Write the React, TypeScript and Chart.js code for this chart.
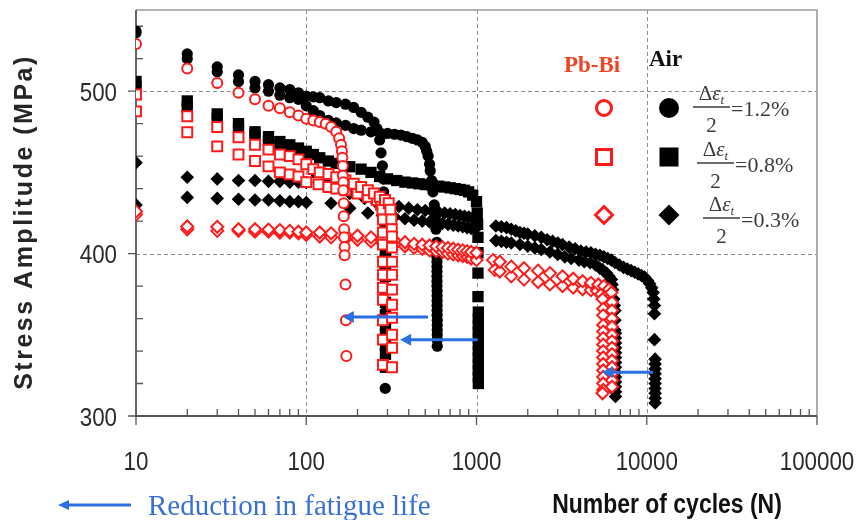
import React, { useEffect, useRef } from 'react';
import { Chart, registerables } from 'chart.js';

Chart.register(...registerables);

// ---------- axes ----------
const X_MIN = 10;
const X_MAX = 100000;
const Y_MIN = 300;
const Y_MAX = 550;
const xMajorTicks = [10, 100, 1000, 10000, 100000];
const xMinorTicks = [
  20, 30, 40, 50, 60, 70, 80, 90,
  200, 300, 400, 500, 600, 700, 800, 900,
  2000, 3000, 4000, 5000, 6000, 7000, 8000, 9000,
  20000, 30000, 40000, 50000, 60000, 70000, 80000, 90000,
];
const yMajorTicks = [300, 400, 500];
const yMinorTicks = [320, 340, 360, 380, 420, 440, 460, 480, 520, 540];
const xGridLines = [100, 1000, 10000];
const yGridLines = [400, 500];

// ---------- texts ----------
const yTitle = 'Stress Amplitude (MPa)';
const xTitle = 'Number of cycles (N)';
const noteText = 'Reduction in fatigue life';
const pbLabel = 'Pb-Bi';
const airLabel = 'Air';
const strainLabels = ['1.2%', '0.8%', '0.3%'];

// ---------- data: [cycles, stress amplitude MPa] ----------
const pbCircle: [number, number][] = [
  [10, 529], [20, 514], [30, 505], [40, 499], [50, 495], [60, 491], [70, 489.5], [80, 487], [90, 485], [100, 483],
  [110, 482], [120, 481], [130, 480], [140, 478], [150, 475], [156, 471], [160, 467], [162, 463], [163, 459],
  [164, 454], [164, 448], [165, 444], [165, 439], [166, 431], [166, 423], [167, 415], [167, 410], [168, 404],
  [168, 399], [170, 381], [171, 359], [172, 337],
];

const pbSquareA: [number, number][] = [
  [10, 498], [20, 484.6], [30, 478], [40, 471.6], [50, 467], [60, 464], [70, 461], [80, 460], [90, 458], [100, 455],
  [110, 452], [120, 450], [135, 449], [150, 447], [170, 445], [190, 443], [210, 441], [230, 439], [250, 437],
  [270, 435], [290, 433], [305, 431], [312, 427], [316, 421], [318, 415], [319, 410.5], [319, 403.7], [319, 395],
  [319, 387], [319, 377.8], [319, 368.5], [319, 360.5], [319, 350], [319, 342], [319, 330],
];

const pbSquareB: [number, number][] = [
  [10, 487.6], [20, 474.7], [30, 466], [40, 461], [50, 457], [60, 453.7], [70, 450], [80, 448.8], [90, 447.5],
  [100, 444], [118, 442.6], [135, 441], [150, 440], [170, 439], [200, 437], [230, 435], [260, 433], [275, 430],
  [280, 427], [282, 421], [282, 413], [282, 405.5], [282, 395], [282, 387], [282, 379], [282, 371.6], [282, 359],
  [282, 347], [282, 331.5],
];

const pbDiamondA: [number, number][] = [
  [10, 426], [20, 416.7], [30, 416.5], [40, 415], [50, 415], [60, 414.8], [70, 414.5], [80, 414], [90, 413.5],
  [100, 413], [120, 413], [140, 412.5], [170, 411.5], [200, 411], [240, 410], [280, 409], [330, 408], [380, 407],
  [430, 406], [480, 405.5], [530, 405], [580, 404.5], [630, 404], [680, 403.5], [730, 403], [780, 402.5],
  [830, 402], [880, 401.5], [930, 401], [1000, 400.5], [1250, 396], [1370, 395], [1600, 392], [1900, 391],
  [2300, 389.5], [2700, 388], [3200, 386], [3700, 384.5], [4200, 383], [4700, 382], [5200, 381], [5600, 380],
  [6000, 378], [6200, 376], [6250, 370], [6250, 365], [6250, 360], [6250, 355], [6250, 350], [6250, 346],
  [6250, 342], [6250, 338], [6250, 334], [6250, 330], [6250, 326], [6250, 322], [6250, 318],
];

const pbDiamondB: [number, number][] = [
  [10, 424], [20, 415], [30, 414], [40, 414], [50, 413.5], [60, 413.5], [70, 413], [80, 413], [90, 412.5],
  [100, 411.5], [120, 410.5], [140, 410], [170, 409], [200, 408.5], [240, 407.5], [280, 406.5], [330, 405.5],
  [380, 404.5], [430, 403.5], [480, 403], [530, 402], [580, 401.5], [630, 401], [680, 400], [730, 399.5],
  [780, 399], [830, 398.5], [880, 398], [930, 397], [1000, 396], [1280, 390], [1370, 389], [1600, 386],
  [1900, 384], [2300, 382.5], [2700, 381], [3200, 380], [3700, 379], [4200, 378], [4700, 377.5], [5100, 377],
  [5400, 375], [5500, 372], [5550, 366], [5550, 362], [5550, 356], [5550, 352], [5550, 348], [5550, 344],
  [5550, 340], [5550, 336], [5550, 332], [5550, 328], [5550, 324], [5550, 320], [5550, 316], [5500, 314],
];

const airCircleA: [number, number][] = [
  [10, 537], [20, 523], [30, 515], [40, 510], [50, 506], [60, 504], [70, 502], [80, 501], [90, 499], [100, 497],
  [110, 496.5], [120, 496], [135, 494], [150, 493], [170, 492], [190, 490], [210, 487], [230, 484], [250, 481],
  [260, 477], [270, 470], [275, 462], [280, 454], [283, 446], [285, 438], [287, 430], [288, 422], [289, 414],
  [290, 406], [290, 398], [290, 391], [291, 385], [291, 378], [291, 370], [291, 364], [291, 358], [291, 353],
  [291, 347], [291, 341], [291, 317],
];

const airCircleB: [number, number][] = [
  [10, 536], [20, 520], [30, 512], [40, 506], [50, 502], [60, 500], [70, 497.5], [80, 496], [90, 495], [100, 491],
  [110, 488], [120, 485], [135, 482], [150, 480.5], [170, 479], [190, 477], [210, 476], [240, 475], [270, 474.5],
  [300, 474], [330, 473.5], [360, 473], [390, 472], [420, 471], [450, 470], [480, 468.5], [500, 466], [510, 463],
  [520, 460], [530, 455], [535, 451], [545, 445], [555, 438], [565, 430], [572, 422], [578, 415], [585, 407],
  [585, 404], [585, 401], [585, 398], [586, 395], [586, 392], [586, 389], [586, 386], [586, 383], [586, 380],
  [587, 377], [587, 374], [587, 371], [587, 368], [587, 365], [587, 362], [588, 359], [588, 356], [588, 353],
  [588, 350], [588, 347], [588, 343],
];

const airSquareA: [number, number][] = [
  [10, 506], [20, 494], [30, 486], [40, 480], [50, 475], [60, 472], [70, 469], [80, 467], [90, 465], [100, 463],
  [110, 461], [120, 459], [135, 457], [150, 455.5], [180, 453.5], [210, 452], [240, 450], [270, 447.5], [300, 446],
  [340, 445], [380, 444], [420, 443.5], [460, 443], [500, 442.5], [550, 442], [600, 441.5], [650, 441],
  [700, 440.5], [750, 440], [800, 439.5], [850, 439], [900, 438], [950, 436], [1000, 432], [1010, 425],
  [1015, 418], [1020, 410], [1020, 400.6], [1020, 388], [1020, 373.5], [1025, 364], [1025, 360], [1025, 356],
  [1025, 352], [1025, 348], [1025, 344], [1025, 340], [1025, 336], [1025, 332], [1025, 328], [1025, 324],
  [1025, 320],
];

const airSquareB: [number, number][] = [
  [10, 503], [20, 490], [30, 483], [40, 477], [50, 473], [60, 469], [70, 467], [80, 465], [90, 463], [100, 460],
  [115, 450], [135, 443], [160, 441], [190, 440], [220, 438.5], [250, 437], [270, 435], [285, 428], [290, 420],
  [292, 412], [292, 406], [292, 402], [292, 398], [292, 392], [292, 386], [292, 378], [292, 370], [292, 362],
  [292, 354], [292, 346], [292, 338], [292, 330],
];

const airDiamondA: [number, number][] = [
  [10, 456], [20, 447], [30, 446], [40, 445], [50, 445], [60, 444.5], [70, 444.5], [80, 444], [90, 444],
  [100, 443.8], [140, 441], [180, 437], [220, 434], [260, 431], [300, 430], [350, 429], [400, 428], [450, 427],
  [500, 426.5], [550, 426], [600, 425.5], [650, 425], [700, 424.5], [750, 424], [800, 423.5], [850, 423],
  [900, 422.5], [950, 422], [1000, 421.5], [1300, 417], [1400, 416.5], [1500, 416], [1600, 415], [1700, 414],
  [1800, 413], [1900, 412.5], [2000, 412], [2200, 411], [2400, 410], [2600, 408.5], [2800, 407.5], [3000, 406.5],
  [3200, 405.5], [3500, 404], [3800, 403], [4100, 401.5], [4400, 401], [4700, 400.5], [5000, 399.5], [5300, 399],
  [5600, 398], [5900, 397], [6200, 396], [6500, 394.5], [6900, 393], [7300, 391.5], [7700, 390.5], [8100, 389.5],
  [8500, 388.5], [8900, 387.5], [9300, 386.5], [9700, 385.5], [10100, 383.5], [10400, 381.5], [10700, 379],
  [10900, 376], [11000, 372], [11100, 368], [11100, 363], [11100, 347], [11200, 335], [11200, 332], [11200, 329],
  [11200, 326], [11200, 323], [11200, 320], [11200, 317], [11200, 314], [11200, 311], [11200, 308],
];

const airDiamondB: [number, number][] = [
  [10, 430], [20, 434.6], [30, 434], [40, 433.5], [50, 433], [60, 433], [70, 432.5], [80, 432], [90, 432],
  [100, 431.5], [140, 431], [180, 428], [230, 425], [280, 423.5], [330, 422.5], [380, 421.5], [430, 420.5],
  [480, 420], [530, 419.5], [580, 419], [630, 418.5], [680, 418], [730, 417.5], [780, 417], [830, 416.5],
  [880, 416], [930, 415.5], [980, 415], [1300, 408], [1400, 407.5], [1500, 407], [1600, 406.5], [1800, 405.6],
  [2000, 404.5], [2200, 403.5], [2400, 402.5], [2700, 401], [3000, 399.5], [3300, 398], [3600, 397], [4000, 396],
  [4300, 395], [4650, 394.4], [5000, 393], [5300, 391], [5500, 390], [5800, 388], [6000, 386], [6200, 384],
  [6250, 381], [6300, 377.8], [6400, 372], [6450, 368], [6500, 365], [6500, 359], [6500, 353], [6550, 351],
  [6550, 348], [6550, 345], [6550, 342], [6550, 339], [6550, 336], [6550, 333], [6550, 330], [6550, 327],
  [6550, 324], [6550, 321], [6550, 318], [6550, 315], [6550, 312],
];

// reduction arrows: from air life to Pb-Bi life at a stress level
const arrowFrom = [519, 1015, 10900];
const arrowTo = [164, 356, 5460];
const arrowStress = [361, 347, 327];

// ---------- styles ----------
const RED = '#ff1a1a';
const PB_TEXT = '#ee4526';
const BLUE = '#2b6fe3';
const NOTE_BLUE = '#3a6fd8';
const SANS = '"Liberation Sans", Arial, sans-serif';
const SERIF = '"Liberation Serif", "Times New Roman", serif';
const NARROW = 0.86;

const toPoints = (arr: [number, number][]) => arr.map(([x, y]) => ({ x, y }));

function condensedText(ctx: CanvasRenderingContext2D, text: string, x: number, y: number, align: CanvasTextAlign, sx: number) {
  ctx.save();
  ctx.translate(x, y);
  ctx.scale(sx, 1);
  ctx.textAlign = align;
  ctx.fillText(text, 0, 0);
  ctx.restore();
}

function drawArrow(ctx: CanvasRenderingContext2D, x1: number, x2: number, y: number, color: string, lw: number, hl: number, hw: number) {
  ctx.save();
  ctx.strokeStyle = color;
  ctx.fillStyle = color;
  ctx.lineWidth = lw;
  ctx.beginPath();
  ctx.moveTo(x1, y);
  ctx.lineTo(x2 + hl - 1, y);
  ctx.stroke();
  ctx.beginPath();
  ctx.moveTo(x2, y);
  ctx.lineTo(x2 + hl, y - hw);
  ctx.lineTo(x2 + hl, y + hw);
  ctx.closePath();
  ctx.fill();
  ctx.restore();
}

function drawMarker(ctx: CanvasRenderingContext2D, kind: string, cx: number, cy: number, r: number, filled: boolean, color: string) {
  ctx.save();
  ctx.beginPath();
  if (kind === 'circle') ctx.arc(cx, cy, r, 0, Math.PI * 2);
  else if (kind === 'square') ctx.rect(cx - r, cy - r, 2 * r, 2 * r);
  else {
    ctx.moveTo(cx, cy - r);
    ctx.lineTo(cx + r, cy);
    ctx.lineTo(cx, cy + r);
    ctx.lineTo(cx - r, cy);
    ctx.closePath();
  }
  if (filled) {
    ctx.fillStyle = color;
    ctx.fill();
  } else {
    ctx.fillStyle = '#fff';
    ctx.fill();
    ctx.strokeStyle = color;
    ctx.lineWidth = 3;
    ctx.stroke();
  }
  ctx.restore();
}

function drawFraction(ctx: CanvasRenderingContext2D, left: number, lineY: number, width: number, value: string) {
  ctx.save();
  ctx.fillStyle = '#3c3c3c';
  ctx.strokeStyle = '#3c3c3c';
  ctx.textBaseline = 'alphabetic';
  ctx.textAlign = 'left';
  ctx.font = `21px ${SERIF}`;
  const wD = ctx.measureText('Δ').width;
  ctx.font = `italic 21px ${SERIF}`;
  const wE = ctx.measureText('ε').width;
  ctx.font = `italic 13px ${SERIF}`;
  const wT = ctx.measureText('t').width;
  const total = wD + wE + wT;
  let nx = left + (width - total) / 2;
  const nb = lineY - 7;
  ctx.font = `21px ${SERIF}`;
  ctx.fillText('Δ', nx, nb);
  nx += wD;
  ctx.font = `italic 21px ${SERIF}`;
  ctx.fillText('ε', nx, nb);
  nx += wE;
  ctx.font = `italic 13px ${SERIF}`;
  ctx.fillText('t', nx, nb + 4);
  ctx.lineWidth = 1.6;
  ctx.beginPath();
  ctx.moveTo(left, lineY);
  ctx.lineTo(left + width, lineY);
  ctx.stroke();
  ctx.font = `21px ${SERIF}`;
  ctx.textAlign = 'center';
  ctx.fillText('2', left + width / 2, lineY + 25);
  ctx.textAlign = 'left';
  ctx.font = `22px ${SERIF}`;
  ctx.fillText('=' + value, left + width + 1, lineY + 8.5);
  ctx.restore();
}

const decorPlugin = {
  id: 'decor',
  beforeDatasetsDraw(chart: any) {
    const { ctx, chartArea: a, scales } = chart;
    const xs = scales.x;
    const ys = scales.y;
    ctx.save();
    // dashed grid
    ctx.strokeStyle = '#8c8c8c';
    ctx.lineWidth = 1;
    ctx.setLineDash([4, 3]);
    for (const v of xGridLines) {
      const px = Math.round(xs.getPixelForValue(v)) + 0.5;
      ctx.beginPath();
      ctx.moveTo(px, a.top);
      ctx.lineTo(px, a.bottom);
      ctx.stroke();
    }
    for (const v of yGridLines) {
      const py = Math.round(ys.getPixelForValue(v)) + 0.5;
      ctx.beginPath();
      ctx.moveTo(a.left, py);
      ctx.lineTo(a.right, py);
      ctx.stroke();
    }
    ctx.setLineDash([]);
    // top / right frame
    ctx.strokeStyle = '#9a9a9a';
    ctx.lineWidth = 1.6;
    ctx.beginPath();
    ctx.moveTo(a.left, a.top);
    ctx.lineTo(a.right, a.top);
    ctx.lineTo(a.right, a.bottom);
    ctx.stroke();
    // axes
    ctx.strokeStyle = '#555';
    ctx.lineWidth = 1.8;
    ctx.beginPath();
    ctx.moveTo(a.left, a.top);
    ctx.lineTo(a.left, a.bottom);
    ctx.lineTo(a.right, a.bottom);
    ctx.stroke();
    // ticks
    ctx.lineWidth = 1.3;
    ctx.beginPath();
    for (const v of xMajorTicks) {
      const px = xs.getPixelForValue(v);
      ctx.moveTo(px, a.bottom);
      ctx.lineTo(px, a.bottom + 9);
    }
    for (const v of xMinorTicks) {
      const px = xs.getPixelForValue(v);
      ctx.moveTo(px, a.bottom);
      ctx.lineTo(px, a.bottom - 7);
    }
    for (const v of yMajorTicks) {
      const py = ys.getPixelForValue(v);
      ctx.moveTo(a.left - 8, py);
      ctx.lineTo(a.left, py);
    }
    for (const v of yMinorTicks) {
      const py = ys.getPixelForValue(v);
      ctx.moveTo(a.left, py);
      ctx.lineTo(a.left + 7, py);
    }
    ctx.stroke();
    // tick labels (condensed sans, as in the source figure)
    ctx.fillStyle = '#2a2a2a';
    ctx.font = `26px ${SANS}`;
    ctx.textBaseline = 'alphabetic';
    for (const v of xMajorTicks) {
      condensedText(ctx, String(v), xs.getPixelForValue(v), a.bottom + 54, 'center', NARROW);
    }
    for (const v of yMajorTicks) {
      condensedText(ctx, String(v), a.left - 19, ys.getPixelForValue(v) + 9.5, 'right', NARROW);
    }
    ctx.restore();
  },
  afterDatasetsDraw(chart: any) {
    const { ctx, scales } = chart;
    for (let i = 0; i < arrowFrom.length; i++) {
      const x1 = scales.x.getPixelForValue(arrowFrom[i]);
      const x2 = scales.x.getPixelForValue(arrowTo[i]);
      const y = scales.y.getPixelForValue(arrowStress[i]);
      drawArrow(ctx, x1, x2, y, BLUE, 3, 11, 6);
    }
  },
  afterDraw(chart: any) {
    const { ctx } = chart;
    ctx.save();
    // y title
    ctx.save();
    ctx.translate(25, 222);
    ctx.rotate(-Math.PI / 2);
    ctx.font = `bold 25px ${SANS}`;
    ctx.fillStyle = '#262626';
    (ctx as any).letterSpacing = '2.5px';
    ctx.textAlign = 'center';
    ctx.textBaseline = 'middle';
    ctx.fillText(yTitle, 0, 0);
    ctx.restore();
    // x title
    ctx.font = `bold 28px ${SANS}`;
    ctx.fillStyle = '#111';
    ctx.textBaseline = 'alphabetic';
    condensedText(ctx, xTitle, 667, 513, 'center', 0.82);
    // note with arrow
    drawArrow(ctx, 131, 58, 505, BLUE, 3, 11, 5);
    ctx.font = `29px ${SERIF}`;
    ctx.fillStyle = NOTE_BLUE;
    ctx.textAlign = 'left';
    ctx.fillText(noteText, 148, 515);
    // legend headers
    ctx.font = `bold 23px ${SERIF}`;
    ctx.fillStyle = PB_TEXT;
    ctx.textAlign = 'center';
    ctx.fillText(pbLabel, 592, 72);
    ctx.fillStyle = '#111';
    ctx.textAlign = 'left';
    ctx.fillText(airLabel, 649, 66);
    ctx.restore();
    // legend markers
    const rowsY = [108, 157, 215];
    const kinds = ['circle', 'square', 'diamond'];
    const openR = [7.5, 7.5, 8.5];
    const fillR = [10, 9.5, 10.5];
    for (let i = 0; i < 3; i++) {
      drawMarker(ctx, kinds[i], 604, rowsY[i], openR[i], false, RED);
      drawMarker(ctx, kinds[i], 669, rowsY[i], fillR[i], true, '#000');
    }
    const fracLeft = [693, 697, 703];
    const fracLineY = [107, 163, 218];
    for (let i = 0; i < 3; i++) drawFraction(ctx, fracLeft[i], fracLineY[i], 37, strainLabels[i]);
  },
};

const seriesSpecs = [
  { data: pbCircle, style: 'circle', r: 5, fill: '#fff', stroke: RED, bw: 2 },
  { data: pbSquareA, style: 'rect', r: 7, fill: '#fff', stroke: RED, bw: 2 },
  { data: pbSquareB, style: 'rect', r: 7, fill: '#fff', stroke: RED, bw: 2 },
  { data: pbDiamondA, style: 'rectRot', r: 6, fill: '#fff', stroke: RED, bw: 2 },
  { data: pbDiamondB, style: 'rectRot', r: 6, fill: '#fff', stroke: RED, bw: 2 },
  { data: airCircleA, style: 'circle', r: 5.6, fill: '#000', stroke: '#000', bw: 0 },
  { data: airCircleB, style: 'circle', r: 5.6, fill: '#000', stroke: '#000', bw: 0 },
  { data: airSquareA, style: 'rect', r: 8, fill: '#000', stroke: '#000', bw: 0 },
  { data: airSquareB, style: 'rect', r: 8, fill: '#000', stroke: '#000', bw: 0 },
  { data: airDiamondA, style: 'rectRot', r: 6.8, fill: '#000', stroke: '#000', bw: 0 },
  { data: airDiamondB, style: 'rectRot', r: 6.8, fill: '#000', stroke: '#000', bw: 0 },
];

export default function App() {
  const canvasRef = useRef<HTMLCanvasElement>(null);

  useEffect(() => {
    const canvas = canvasRef.current;
    if (!canvas) return;
    const chart = new Chart(canvas, {
      type: 'scatter',
      data: {
        datasets: seriesSpecs.map((s) => ({
          data: toPoints(s.data),
          pointStyle: s.style as any,
          pointRadius: s.r,
          backgroundColor: s.fill,
          borderColor: s.stroke,
          borderWidth: s.bw,
          showLine: false,
        })),
      },
      options: {
        responsive: false,
        animation: false,
        events: [],
        layout: { padding: { left: 0, right: 41, top: 10, bottom: 0 } },
        plugins: { legend: { display: false }, tooltip: { enabled: false }, title: { display: false } },
        scales: {
          x: {
            type: 'logarithmic',
            min: X_MIN,
            max: X_MAX,
            grid: { display: false, drawTicks: false },
            border: { display: false },
            ticks: { display: false },
            afterBuildTicks: (scale: any) => {
              scale.ticks = xMajorTicks.map((v) => ({ value: v }));
            },
            afterFit: (scale: any) => {
              scale.height = 104;
              scale.paddingLeft = 0;
              scale.paddingRight = 0;
            },
          },
          y: {
            type: 'linear',
            min: Y_MIN,
            max: Y_MAX,
            grid: { display: false, drawTicks: false },
            border: { display: false },
            ticks: { display: false },
            afterBuildTicks: (scale: any) => {
              scale.ticks = yMajorTicks.map((v) => ({ value: v }));
            },
            afterFit: (scale: any) => {
              scale.width = 136;
              scale.paddingTop = 0;
              scale.paddingBottom = 0;
            },
          },
        },
      } as any,
      plugins: [decorPlugin],
    });
    return () => chart.destroy();
  }, []);

  return (
    <div style={{ position: 'fixed', left: 0, top: 0, width: 858, height: 520, background: '#fff' }}>
      <canvas ref={canvasRef} width={858} height={520} style={{ width: 858, height: 520, display: 'block' }} />
    </div>
  );
}
